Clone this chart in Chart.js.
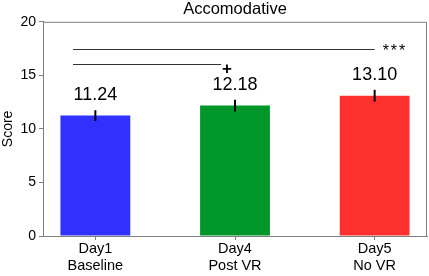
<!DOCTYPE html>
<html><head><meta charset="utf-8">
<script src="https://cdn.jsdelivr.net/npm/chart.js@4/dist/chart.umd.min.js"></script>
<style>html,body{margin:0;padding:0;background:#fff}#wrap{width:429px;height:276px;position:relative}</style>
</head><body><div id="wrap"><canvas id="c"></canvas></div>
<script>
const categories = [["Day1","Baseline"],["Day4","Post VR"],["Day5","No VR"]];
const scores = [11.24, 12.18, 13.10];
const errors = [0.5, 0.55, 0.55];
const valueLabels = ["11.24","12.18","13.10"];
const barColors = ["#3030FF","#00962A","#FF3030"];
const yTicks = [0,5,10,15,20];
const sigFrom = [-0.16, -0.16];
const sigTo = [2.0, 0.9];
const sigLevel = [17.5, 16.1];
const sigMarks = ["***","+"];

const FONT = "'Liberation Sans', Arial, sans-serif";
const AXIS = "#7f7f7f";

const overlay = {
  id: 'overlay',
  afterDatasetsDraw(chart) {
    const ctx = chart.ctx, x = chart.scales.x, y = chart.scales.y, a = chart.chartArea;
    ctx.save();
    ctx.strokeStyle = AXIS; ctx.lineWidth = 1;
    ctx.beginPath();
    ctx.moveTo(a.left, a.top + 0.5); ctx.lineTo(a.right - 0.5, a.top + 0.5); ctx.lineTo(a.right - 0.5, a.bottom);
    ctx.stroke();
    ctx.strokeStyle = '#000'; ctx.lineWidth = 2;
    scores.forEach((v, i) => {
      const px = x.getPixelForValue(i);
      ctx.beginPath();
      ctx.moveTo(px, y.getPixelForValue(v + errors[i]));
      ctx.lineTo(px, y.getPixelForValue(v - errors[i]));
      ctx.stroke();
    });
    ctx.fillStyle = '#000'; ctx.font = '18px ' + FONT; ctx.textAlign = 'center'; ctx.textBaseline = 'alphabetic';
    valueLabels.forEach((t, i) => {
      const px = x.getPixelForValue(i);
      ctx.fillText(t, px, y.getPixelForValue(scores[i] + errors[i]) - 10);
    });
    ctx.strokeStyle = '#333'; ctx.lineWidth = 1;
    sigMarks.forEach((m, i) => {
      const py = Math.round(y.getPixelForValue(sigLevel[i])) + 0.5;
      const x0 = x.getPixelForValue(sigFrom[i]), x1 = x.getPixelForValue(sigTo[i]);
      ctx.beginPath(); ctx.moveTo(x0, py); ctx.lineTo(x1, py); ctx.stroke();
      ctx.textAlign = 'left';
      if (m === '+') {
        ctx.font = 'bold 17px ' + FONT;
        ctx.fillText(m, x1 + 1, py + 9);
      } else {
        ctx.font = '16px ' + FONT;
        ctx.letterSpacing = '2px';
        ctx.fillText(m, x1 + 8, py + 6.5);
        ctx.letterSpacing = '0px';
      }
    });
    ctx.restore();
  }
};

new Chart(document.getElementById('c'), {
  type: 'bar',
  data: {
    datasets: [{
      data: scores.map((v, i) => ({x: i, y: v})),
      backgroundColor: barColors,
      borderColor: barColors,
      borderWidth: 0,
      barPercentage: 0.5,
      categoryPercentage: 1
    }]
  },
  options: {
    responsive: true, maintainAspectRatio: false, animation: false,
    layout: {padding: {right: 2, top: 0, left: 0, bottom: 0}},
    plugins: {
      legend: {display: false}, tooltip: {enabled: false},
      title: {display: true, text: 'Accomodative', color: '#000', fullSize: false,
        font: {family: FONT, size: 16.5, weight: 'normal'}, padding: {top: 0, bottom: 2}}
    },
    scales: {
      x: {
        type: 'linear', min: -0.375, max: 2.375, offset: false, grace: 0,
        afterBuildTicks(s) { s.ticks = categories.map((c, i) => ({value: i})); },
        afterFit(s) { s.height = 40; },
        ticks: {callback: (v) => categories[v], color: '#000', font: {family: FONT, size: 14.5}, padding: 0, maxRotation: 0, autoSkip: false},
        grid: {display: true, drawOnChartArea: false, tickLength: 4, color: AXIS, offset: false},
        border: {display: true, color: AXIS}
      },
      y: {
        min: 0, max: 20,
        afterBuildTicks(s) { s.ticks = yTicks.map(v => ({value: v})); },
        afterFit(s) { s.width = 43; },
        ticks: {color: '#000', font: {family: FONT, size: 14}, padding: 3},
        grid: {display: true, drawOnChartArea: false, tickLength: 4, color: AXIS},
        border: {display: true, color: AXIS},
        title: {display: true, text: 'Score', color: '#000', font: {family: FONT, size: 14}, padding: 0}
      }
    }
  },
  plugins: [overlay]
});
</script>
</body></html>
